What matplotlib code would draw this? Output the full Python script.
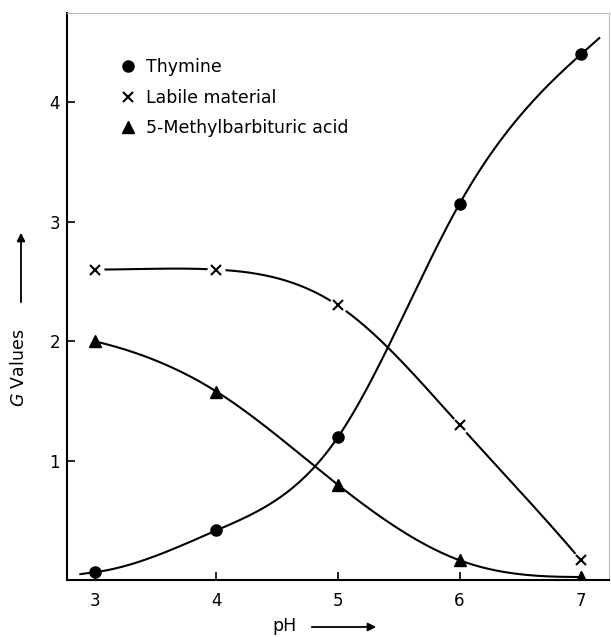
import numpy as np
import matplotlib
matplotlib.use("Agg")
import matplotlib.pyplot as plt

# data
ph = [3, 4, 5, 6, 7]
thymine = [0.07, 0.42, 1.20, 3.15, 4.40]
labile = [2.60, 2.60, 2.30, 1.30, 0.17]
mba = [2.00, 1.58, 0.80, 0.17, 0.03]

labels = ["Thymine", "Labile material", "5-Methylbarbituric acid"]
xticks = [3, 4, 5, 6, 7]
yticks = [1, 2, 3, 4]


def slopes(x, y):
    # clamped cubic spline; end slopes from three point differences
    x = np.asarray(x, float)
    y = np.asarray(y, float)
    h = np.diff(x)
    s = np.diff(y) / h
    n = len(x)
    e0 = (-3 * y[0] + 4 * y[1] - y[2]) / (x[2] - x[0])
    e1 = (3 * y[-1] - 4 * y[-2] + y[-3]) / (x[-1] - x[-3])
    d0 = e0 if e0 * s[0] > 0 else 0.0
    d1 = e1 if e1 * s[-1] > 0 else 0.0
    A = np.zeros((n, n))
    b = np.zeros(n)
    A[0, 0] = 1
    b[0] = d0
    A[-1, -1] = 1
    b[-1] = d1
    for i in range(1, n - 1):
        A[i, i - 1] = h[i]
        A[i, i] = 2 * (h[i - 1] + h[i])
        A[i, i + 1] = h[i - 1]
        b[i] = 3 * (h[i] * s[i - 1] + h[i - 1] * s[i])
    return np.linalg.solve(A, b)


def smooth(x, y, ext0=0.0, ext1=0.0, n=60):
    x = np.asarray(x, float)
    y = np.asarray(y, float)
    d = slopes(x, y)
    xs, ys = [], []
    if ext0 > 0:
        xs.append(x[0] - ext0)
        ys.append(y[0] - d[0] * ext0)
    for k in range(len(x) - 1):
        h = x[k + 1] - x[k]
        t = np.linspace(0, 1, n, endpoint=False)
        h00 = 2 * t**3 - 3 * t**2 + 1
        h10 = t**3 - 2 * t**2 + t
        h01 = -2 * t**3 + 3 * t**2
        h11 = t**3 - t**2
        xs.extend(x[k] + t * h)
        ys.extend(h00 * y[k] + h10 * h * d[k] + h01 * y[k + 1] + h11 * h * d[k + 1])
    xs.append(x[-1])
    ys.append(y[-1])
    if ext1 > 0:
        xs.append(x[-1] + ext1)
        ys.append(y[-1] + d[-1] * ext1)
    return np.array(xs), np.array(ys)


plt.rcParams['font.family'] = ['DejaVu Sans']

fig = plt.figure(figsize=(6.11, 6.37), dpi=100)
ax = fig.add_axes([0.1097, 0.0895, 0.887, 0.8901])

lw = 1.5
xs, ys = smooth(ph, thymine, ext0=0.12, ext1=0.15)
ax.plot(xs, ys, color='black', lw=lw)
xs, ys = smooth(ph, labile)
ax.plot(xs, ys, color='black', lw=lw)
xs, ys = smooth(ph, mba)
ax.plot(xs, ys, color='black', lw=lw)

# white patch under the crosses so the line stops short of them
ax.plot(ph, labile, ls='none', marker='o', ms=13, mfc='white', mec='none', zorder=3)

ax.plot(ph, thymine, ls='none', marker='o', ms=8, color='black', zorder=4, label=labels[0])
ax.plot(ph, labile, ls='none', marker='x', ms=7, mew=1.5, color='black', zorder=4, label=labels[1])
ax.plot(ph, mba, ls='none', marker='^', ms=9, color='black', zorder=4, label=labels[2])

ax.set_xlim(2.77, 7.23)
ax.set_ylim(0.005, 4.745)
ax.set_xticks(xticks)
ax.set_yticks(yticks)
ax.tick_params(direction='in', length=6, width=1.2, labelsize=12)
ax.tick_params(axis='x', pad=9)
ax.tick_params(axis='y', pad=5)

for side in ['left', 'bottom']:
    ax.spines[side].set_linewidth(1.5)
for side in ['top', 'right']:
    ax.spines[side].set_linewidth(0.8)
    ax.spines[side].set_color('#bbbbbb')

leg = ax.legend(loc='upper left', bbox_to_anchor=(0.085, 0.932), frameon=False,
                fontsize=12.5, handlelength=0.9, handletextpad=0.6,
                labelspacing=0.7, borderaxespad=0)

# axis labels with arrows, drawn in figure pixels
fig.text(19 / 611, 1 - 368 / 637, "$\\mathit{G}$ Values", rotation=90,
         ha='center', va='center', fontsize=12.5)
fig.add_artist(matplotlib.patches.FancyArrowPatch(
    (21 / 611, 1 - 305 / 637), (21 / 611, 1 - 230 / 637),
    transform=fig.transFigure, arrowstyle='-|>', mutation_scale=12,
    color='black', lw=1.3))

fig.text(285 / 611, 1 - 626 / 637, "pH", ha='center', va='center', fontsize=12.5)
fig.add_artist(matplotlib.patches.FancyArrowPatch(
    (309 / 611, 1 - 627 / 637), (379 / 611, 1 - 627 / 637),
    transform=fig.transFigure, arrowstyle='-|>', mutation_scale=12,
    color='black', lw=1.3))

fig.savefig("out.png", dpi=100)
